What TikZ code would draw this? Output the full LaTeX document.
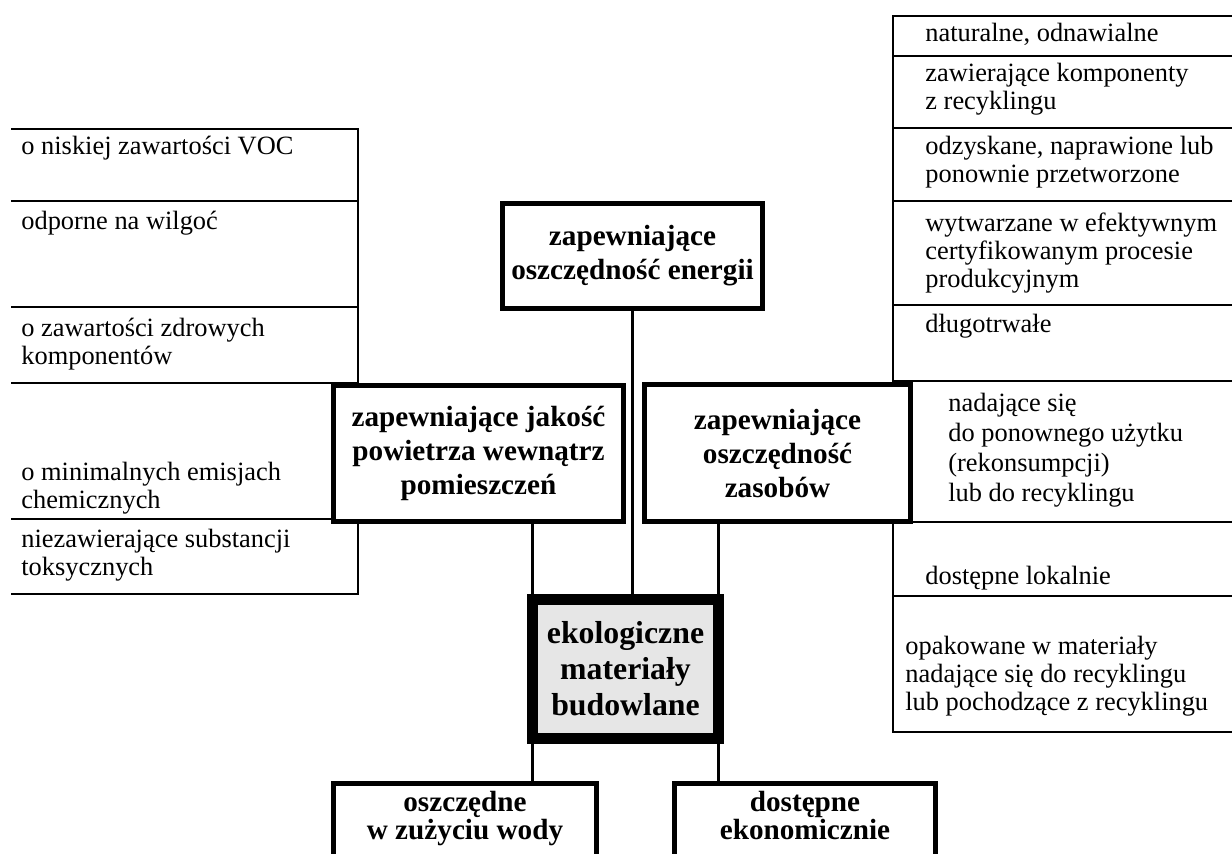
\documentclass[tikz,border=0pt]{standalone}
\usepackage{fontspec}
\setmainfont{Liberation Serif}
\definecolor{centerfill}{RGB}{230,230,230}
\begin{document}
\begin{tikzpicture}[x=0.5pt,y=-0.5pt,
  reg/.style={font=\fontsize{13.2}{14}\selectfont, inner sep=0pt, align=left, anchor=base west},
  head/.style={draw, line width=2.5pt, fill=white, font=\fontsize{14.6}{17}\selectfont\bfseries, align=center, inner sep=0pt, outer sep=0pt},
  openbox/.style={draw, line width=2.5pt, fill=white, inner sep=0pt, outer sep=0pt, anchor=north},
  boxtext/.style={font=\fontsize{14.6}{14}\selectfont\bfseries, align=center, inner sep=0pt, anchor=base},
  listline/.style={line width=1.2pt},
  conn/.style={line width=1.5pt}]
\clip (0,0) rectangle (1232,854);
\fill[white] (0,0) rectangle (1232,854);

% left list frame
\draw[listline] (11,129) -- (358,129) -- (358,594) -- (11,594);
\foreach \yy in {201,307,383,519} {\draw[listline] (11,\yy) -- (358,\yy);}
% right list frame
\draw[listline] (1232,16) -- (893,16) -- (893,732) -- (1232,732);
\foreach \yy in {56,128,201,305,381,522,596} {\draw[listline] (893,\yy) -- (1232,\yy);}

% left texts (anchored at the baseline of the last line)
\node[reg] (l1) at (21,155) {o niskiej zawartości VOC};
\node[reg] (l2) at (21,230) {odporne na wilgoć};
\node[reg] (l3) at (21,365) {o zawartości zdrowych\\komponentów};
\node[reg] (l4) at (21,509) {o minimalnych emisjach\\chemicznych};
\node[reg] (l5) at (21,576) {niezawierające substancji\\toksycznych};

% right texts
\node[reg] (r1) at (925,42) {naturalne, odnawialne};
\node[reg] (r2) at (925,110) {zawierające komponenty\\z recyklingu};
\node[reg] (r3) at (925,183) {odzyskane, naprawione lub\\ponownie przetworzone};
\node[reg] (r4) at (925,288) {wytwarzane w efektywnym\\certyfikowanym procesie\\produkcyjnym};
\node[reg] (r5) at (925,333) {długotrwałe};
\node[reg, font=\fontsize{13.2}{15}\selectfont] (r6) at (948,502) {nadające się\\do ponownego użytku\\(rekonsumpcji)\\lub do recyklingu};
\node[reg] (r7) at (925,585) {dostępne lokalnie};
\node[reg] (r8) at (905,711) {opakowane w materiały\\nadające się do recyklingu\\lub pochodzące z recyklingu};

% main boxes
\node[head, minimum width=130pt, minimum height=52.5pt] (E) at (632.5,256) {zapewniające\\oszczędność energii};
\node[head, minimum width=145pt, minimum height=68pt] (J) at (478.5,453.5) {zapewniające jakość\\powietrza wewnątrz\\pomieszczeń};
\node[head, minimum width=133pt, minimum height=68.5pt] (Z) at (777.5,453.5) {zapewniające\\oszczędność\\zasobów};
\node[head, line width=5.5pt, fill=centerfill, font=\fontsize{15.9}{18}\selectfont\bfseries, minimum width=93pt, minimum height=69.5pt] (C) at (625.5,669) {ekologiczne\\materiały\\budowlane};
\node[openbox, minimum width=131.5pt, minimum height=100pt] (W) at (465,783.5) {};
\node[openbox, minimum width=130.5pt, minimum height=100pt] (D) at (805,783.5) {};
\node[boxtext] (Wt) at (465,840) {oszczędne\\w zużyciu wody};
\node[boxtext] (Dt) at (805,840) {dostępne\\ekonomicznie};

% connectors
\draw[conn] (E.south) -- (E.south |- C.north);
\draw[conn] (J.south -| C.north west) -- (C.north west);
\draw[conn] (Z.south -| C.north east) -- (C.north east);
\draw[conn] (C.south west) -- (C.south west |- W.north);
\draw[conn] (C.south east) -- (C.south east |- D.north);
\end{tikzpicture}
\end{document}
